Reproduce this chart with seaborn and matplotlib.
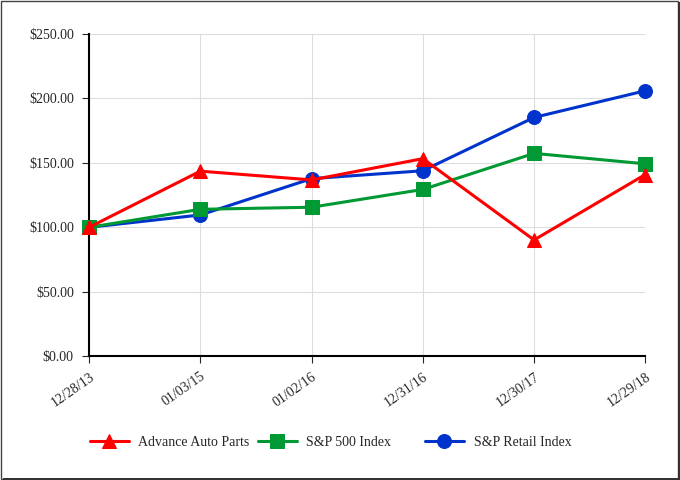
import pandas as pd
import seaborn as sns
import matplotlib.pyplot as plt
from matplotlib.patches import Rectangle
from matplotlib.ticker import FuncFormatter

# %% data
dates = ["12/28/13", "01/03/15", "01/02/16", "12/31/16", "12/30/17", "12/29/18"]
advance_auto = [100.0, 143.6, 136.8, 153.3, 90.2, 141.0]
sp500 = [100.0, 114.0, 115.6, 129.4, 157.4, 149.3]
sp_retail = [100.0, 109.6, 137.8, 143.9, 185.3, 206.0]

series_names = ["Advance Auto Parts", "S&P 500 Index", "S&P Retail Index"]
series_values = [advance_auto, sp500, sp_retail]
colors = ["#ff0000", "#009933", "#0033cc"]
markers = ["^", "s", "o"]

df = pd.DataFrame({
    "pos": list(range(len(dates))) * 3,
    "value": advance_auto + sp500 + sp_retail,
    "series": [n for n in series_names for _ in dates],
})

# %% plot
sns.set_style("white")
plt.rcParams["font.family"] = ["Liberation Serif", "DejaVu Serif"]

fig = plt.figure(figsize=(6.8, 4.8), dpi=100)
ax = fig.add_axes([0.131, 0.258, 0.818, 0.671])

# red line sits on top, blue at the bottom
for i, (name, color, marker) in enumerate(zip(series_names, colors, markers)):
    sub = df[df["series"] == name]
    sns.lineplot(
        data=sub, x="pos", y="value", ax=ax,
        color=color, marker=marker, markersize=10,
        markeredgecolor=color, linewidth=2.2, label=name, clip_on=False,
        zorder=5 - i,
    )

ax.set_xlim(0, len(dates) - 1)
ax.set_ylim(0, 250)
ax.set_xticks(range(len(dates)))
ax.set_xticklabels(dates, rotation=35, ha="right", rotation_mode="anchor", fontsize=10)
ax.set_yticks(range(0, 251, 50))
ax.yaxis.set_major_formatter(FuncFormatter(lambda v, _: f"${v:,.2f}"))
ax.tick_params(axis="y", labelsize=10, length=5, width=0.8, direction="out", left=True, pad=6)
ax.tick_params(axis="x", length=5, width=0.8, direction="out", bottom=True, pad=5)
ax.set_xlabel("")
ax.set_ylabel("")

ax.grid(True, color="#dddddd", linewidth=0.8)
ax.set_axisbelow(True)
for side in ["top", "right"]:
    ax.spines[side].set_visible(False)
for side in ["left", "bottom"]:
    ax.spines[side].set_color("black")
    ax.spines[side].set_linewidth(1.5)

# three separate legend entries spaced like the original
handles, labels = ax.get_legend_handles_labels()
ax.get_legend().remove()
legend_x = [0.132, 0.379, 0.625]
for h, lab, x in zip(handles, labels, legend_x):
    fig.legend([h], [lab], loc="center left", bbox_to_anchor=(x, 0.079),
               frameon=False, fontsize=10, handlelength=2.8,
               handletextpad=0.7, borderpad=0, borderaxespad=0)

# frame around the whole picture with a small shadow
fig.patches.append(Rectangle((0.0015, 0.003), 0.995, 0.995, transform=fig.transFigure,
                             facecolor="none", edgecolor="#444444", linewidth=1.0))
fig.patches.append(Rectangle((0.997, 0.0), 0.003, 0.995, transform=fig.transFigure,
                             facecolor="#333333", edgecolor="none"))
fig.patches.append(Rectangle((0.004, 0.0), 0.996, 0.004, transform=fig.transFigure,
                             facecolor="#333333", edgecolor="none"))

fig.savefig("out.png", dpi=100)
